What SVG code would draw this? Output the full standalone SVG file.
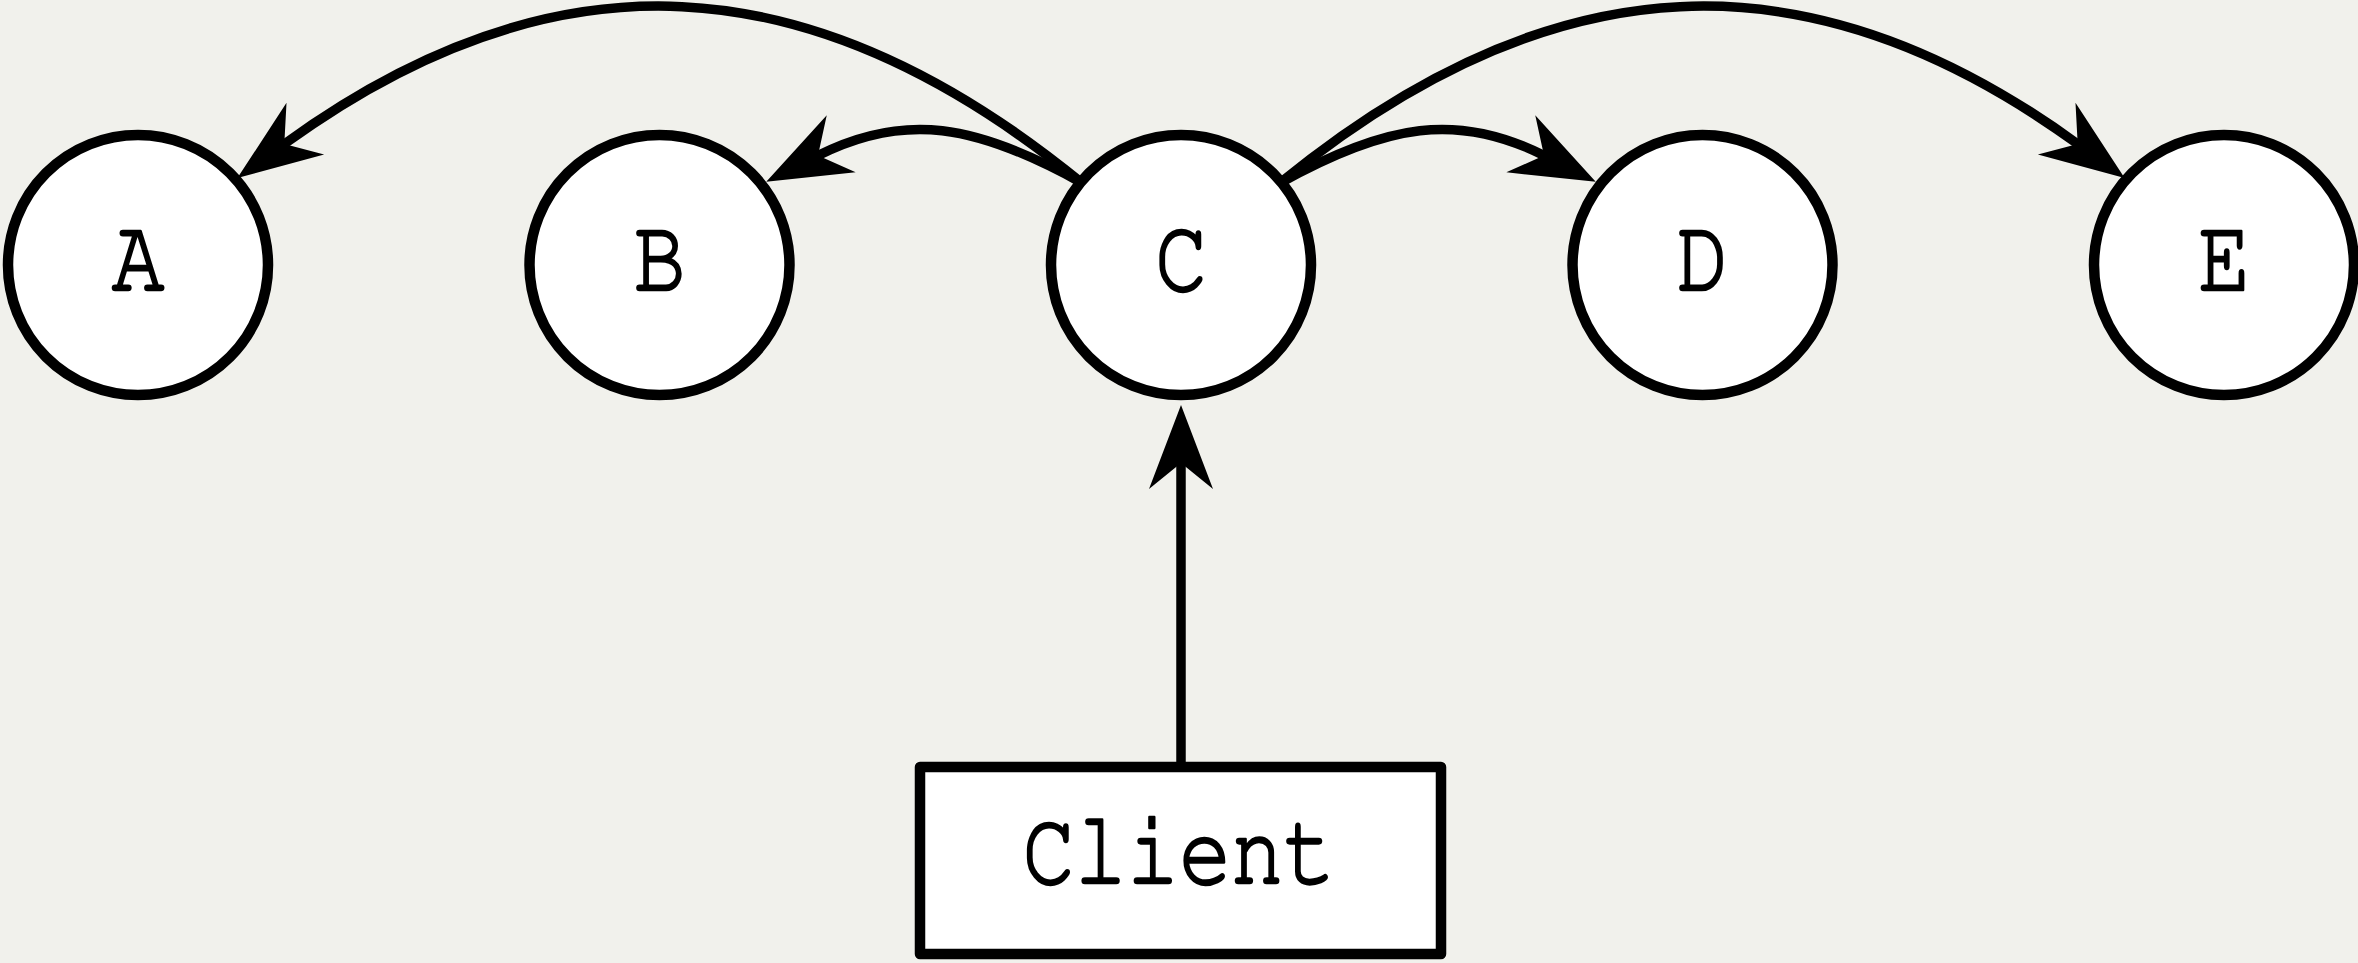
<svg xmlns="http://www.w3.org/2000/svg" width="2358" height="963" viewBox="0 0 2358 963">
  <style>
    .node { fill: #ffffff; stroke: #000000; stroke-width: 10.5; stroke-linejoin: round; }
    .label { font-family: "Nimbus Mono PS", "FreeMono", "Courier New", "Liberation Mono", monospace; font-size: 87px; fill: #000000; stroke: #000000; stroke-width: 2.2; stroke-linejoin: round; text-anchor: middle; }
    .edge { fill: none; stroke: #000000; stroke-width: 9.5; stroke-linecap: round; marker-end: url(#vee); }
  </style>
  <defs>
    <!-- open "vee" arrowhead; the path ends at the notch, the tip sits 58px ahead -->
    <marker id="vee" markerUnits="userSpaceOnUse" orient="auto" refX="0" refY="0"
            viewBox="-30 -40 100 80" markerWidth="100" markerHeight="80" overflow="visible">
      <path d="M58,0 L-26,-32 L0,0 L-26,32 Z" fill="#000000"/>
    </marker>
  </defs>

  <rect x="0" y="0" width="2358" height="963" fill="#f1f1ec"/>

  <g id="connectors">
    <path id="c-to-a" class="edge" d="M1082,183 C809.9,-39.8 553.1,-51.4 284.3,144"/>
    <path id="c-to-b" class="edge" d="M1082,183 C975.4,123.7 904,112 818,155.5"/>
    <path id="c-to-d" class="edge" d="M1280,183 C1386.6,123.7 1458,112 1544,155.5"/>
    <path id="c-to-e" class="edge" d="M1280,183 C1552.1,-39.8 1808.9,-51.4 2077.7,144"/>
    <path id="client-to-c" class="edge" d="M1181,767 L1181,463"/>
  </g>

  <!-- labels use a slightly tall typewriter face: vertical stretch of 1.2 -->
  <g id="node-a">
    <circle class="node" cx="138" cy="265" r="130"/>
    <text class="label" transform="translate(138,290) scale(1,1.2)">A</text>
  </g>
  <g id="node-b">
    <circle class="node" cx="659.5" cy="265" r="130"/>
    <text class="label" transform="translate(659.5,290) scale(1,1.2)">B</text>
  </g>
  <g id="node-c">
    <circle class="node" cx="1181" cy="265" r="130"/>
    <text class="label" transform="translate(1181,290) scale(1,1.2)">C</text>
  </g>
  <g id="node-d">
    <circle class="node" cx="1702.5" cy="265" r="130"/>
    <text class="label" transform="translate(1702.5,290) scale(1,1.2)">D</text>
  </g>
  <g id="node-e">
    <circle class="node" cx="2224" cy="265" r="130"/>
    <text class="label" transform="translate(2224,290) scale(1,1.2)">E</text>
  </g>
  <g id="node-client">
    <rect class="node" x="920" y="767" width="521" height="187"/>
    <text class="label" transform="translate(1179,883) scale(1,1.2)">Client</text>
  </g>
</svg>
